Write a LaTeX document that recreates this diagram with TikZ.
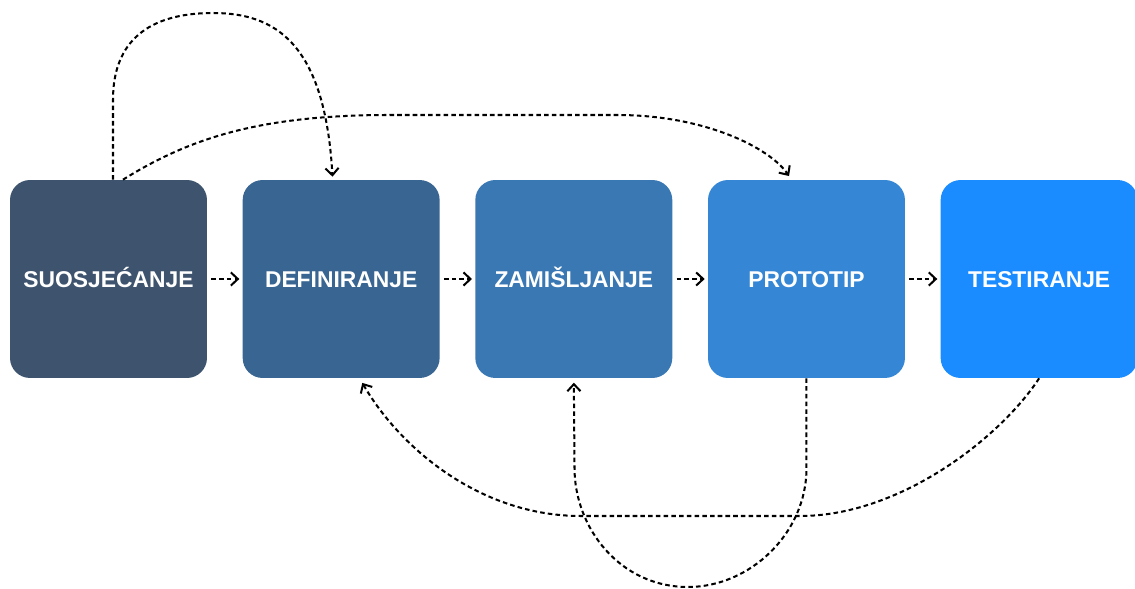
\documentclass[tikz,border=0pt]{standalone}
\usepackage{fontspec}
\setmainfont{Liberation Sans}
\usetikzlibrary{positioning, arrows.meta}

\definecolor{phaseA}{RGB}{62,84,110}
\definecolor{phaseB}{RGB}{56,101,145}
\definecolor{phaseC}{RGB}{58,120,180}
\definecolor{phaseD}{RGB}{53,135,214}
\definecolor{phaseE}{RGB}{27,140,255}

\begin{document}
\begin{tikzpicture}[x=0.02cm, y=0.02cm,
    phase/.style={rounded corners=0.4cm, minimum width=3.94cm, minimum height=3.96cm,
        inner sep=0pt, text height=9.4pt, text depth=0pt, text=white,
        font=\bfseries\fontsize{13}{16}\selectfont},
    flow/.style={line width=1.15pt, dash pattern=on 2.6pt off 1.8pt,
        -{Straight Barb[length=4pt, width=7.5pt]}}]
        \useasboundingbox (0,0) rectangle (1135,588);

        % the five phases
        \node[phase, fill=phaseA] (empathise) at (108.5,309) {SUOSJEĆANJE};
        \node[phase, fill=phaseB, right=0.7cm of empathise] (define) {DEFINIRANJE};
        \node[phase, fill=phaseC, right=0.7cm of define] (ideate) {ZAMIŠLJANJE};
        \node[phase, fill=phaseD, right=0.7cm of ideate] (prototype) {PROTOTIP};
        \node[phase, fill=phaseE, right=0.7cm of prototype] (testing) {TESTIRANJE};

        \foreach \a/\b in {empathise/define, define/ideate, ideate/prototype, prototype/testing}
            \draw[flow, shorten <=2.3pt, shorten >=1.7pt] (\a) -- (\b);

        % loops above
        \draw[flow, shorten >=1.7pt] ([xshift=0.09cm]empathise.north) -- ++(0,80)
            .. controls +(0,58) and (148,575) .. (213,575)
            .. controls (275,575) and (325,545) .. ([xshift=-0.17cm]define.north);
        \draw[flow, shorten >=2.5pt] ([xshift=0.29cm]empathise.north)
            .. controls (190,450) and (260,473) .. (390,473) -- (617,473)
            .. controls (705,473) and (770,440) .. ([xshift=-0.3cm]prototype.north);

        % loops below
        \draw[flow, shorten >=3pt] (testing.south)
            .. controls (1000,150) and (900,72) .. (800,72) -- (581,72)
            .. controls (480,72) and (400,140) .. ([xshift=0.37cm]define.south);
        \draw[flow, shorten >=2.5pt] (prototype.south) -- ++(0,-90)
            .. controls +(0,-65) and (750,1) .. (688,1)
            .. controls (620,1) and (574.5,60) .. (574.5,120) -- (ideate.south);
    \end{tikzpicture}
\end{document}
